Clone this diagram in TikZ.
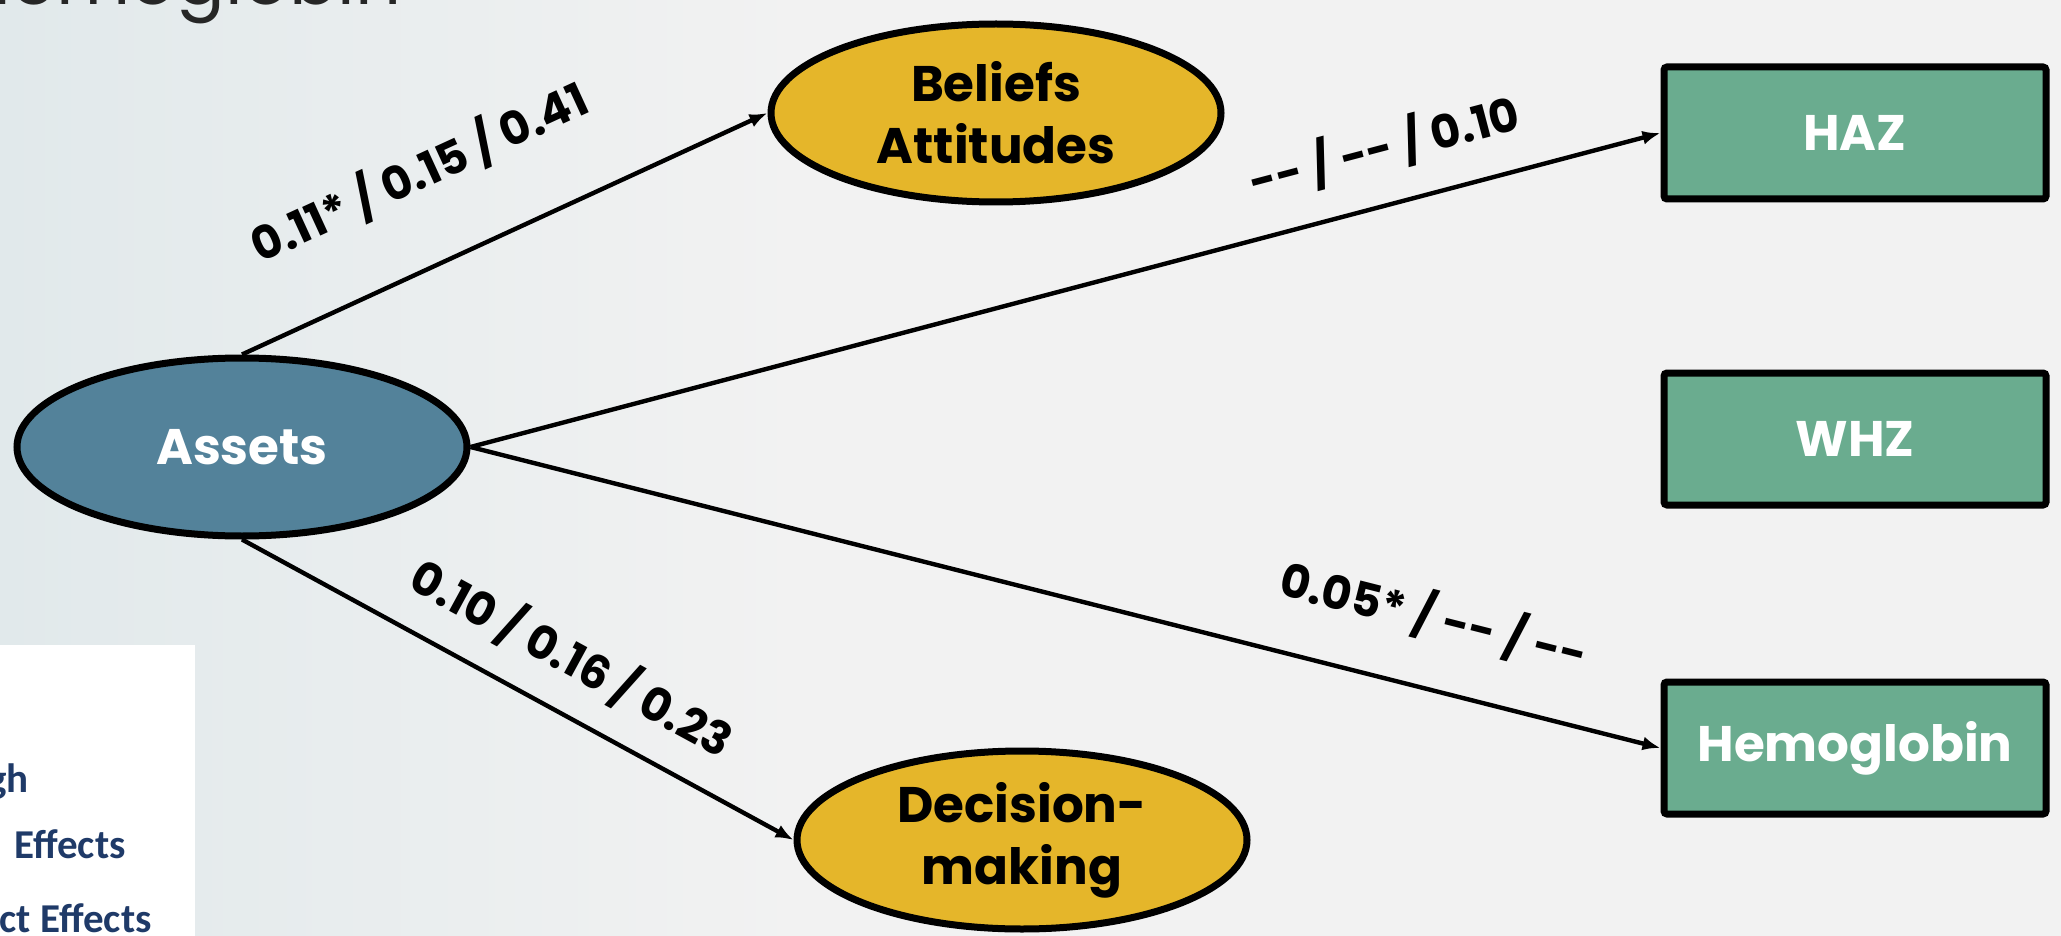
\documentclass[tikz,border=0pt]{standalone}
\usepackage{fontspec}
\setmainfont{Poppins}[Numbers=Monospaced]
\newfontfamily\legendfont{Carlito}
\usetikzlibrary{shapes.geometric,arrows.meta}
\definecolor{assetblue}{HTML}{53829A}
\definecolor{mustard}{HTML}{E5B62A}
\definecolor{outcomegreen}{HTML}{6AAC8F}
\definecolor{slidegray}{HTML}{F2F2F2}
\definecolor{slidetint}{HTML}{E1E9EB}
\definecolor{legendnavy}{HTML}{1F3A68}
\definecolor{titlegray}{HTML}{262626}
\newcommand{\nd}{-\kern0pt-}

\begin{document}
\begin{tikzpicture}[x=0.5pt, y=-0.5pt,
  oval/.style={ellipse, draw=black, line width=3.5pt, minimum width=225pt, minimum height=89pt, inner sep=0pt, align=center, font=\bfseries\fontsize{25}{31}\selectfont},
  outcome/.style={rectangle, rounded corners=1.5pt, draw=black, fill=outcomegreen, line width=3.5pt, minimum width=191pt, minimum height=66pt, inner sep=0pt, text=white, font=\bfseries\fontsize{25}{31}\selectfont},
  link/.style={line width=2.2pt, -{Latex[length=9pt,width=7pt]}},
  coef/.style={sloped, inner sep=0pt, font=\bfseries\fontsize{23}{27}\selectfont},
  legendtext/.style={anchor=base east, inner sep=0pt, text=legendnavy, font=\legendfont\bfseries\fontsize{20.5}{24}\selectfont}]
\useasboundingbox (0,0) rectangle (2061,936);
\fill[slidegray] (0,0) rectangle (2061,936);
\shade[left color=slidetint, right color=slidegray] (0,0) rectangle (800,936);

% title, cut at the top
\node[anchor=base east, inner sep=0pt, text=titlegray, font=\fontsize{36}{40}\selectfont] (title) at (402,5) {Hemoglobin};

% legend, cut at the left
\fill[white] (0,645) rectangle (195,940);
\node[legendtext] (legendA) at (29,792) {gh};
\node[legendtext] (legendB) at (126,858) {Effects};
\node[legendtext] (legendC) at (152,932) {ct Effects};

% nodes
\node[oval, fill=assetblue, text=white] (assets) at (242,447) {Assets};
\node[oval, fill=mustard] (beliefs) at (996,113) {Beliefs\\Attitudes};
\node[oval, fill=mustard] (decision) at (1022,840) {Decision-\\making};
\node[outcome] (haz) at (1855,133) {HAZ};
\node[outcome] (whz) at (1855,439) {WHZ};
\node[outcome] (hemo) at (1855,748) {Hemoglobin};

% paths
\draw[link] (assets.north) -- (beliefs.west) node[coef, pos=0.41, yshift=46pt] {0.11* / 0.15 / 0.41};
\draw[link] (assets.east) -- (haz.west) node[coef, pos=0.78, yshift=28.5pt] {\nd{} / \nd{} / 0.10};
\draw[link] (assets.east) -- (hemo.west) node[coef, pos=0.795, yshift=36pt] {0.05* / \nd{} / \nd};
\draw[link] (assets.south) -- (decision.west) node[coef, pos=0.552, yshift=27pt] {0.10 / 0.16 / 0.23};
\end{tikzpicture}
\end{document}
